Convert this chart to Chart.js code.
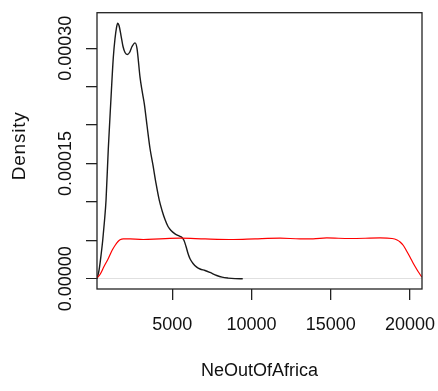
<!DOCTYPE html>
<html>
<head>
<meta charset="utf-8">
<script src="https://cdn.jsdelivr.net/npm/chart.js@4/dist/chart.umd.min.js"></script>
<style>
  html, body { margin: 0; padding: 0; background: #ffffff; }
  canvas { display: block; }
</style>
</head>
<body>
<canvas id="c" width="438" height="391"></canvas>
<script>
// Posterior density of NeOutOfAfrica (black)
const blackX = [250, 373, 499, 606, 720, 815, 960, 1111, 1275, 1383, 1477, 1553, 1635, 1761, 1888, 2014, 2159, 2298, 2456, 2645, 2772, 2961, 3087, 3232, 3403, 3592, 3782, 3971, 4179, 4350, 4539, 4729, 4918, 5170, 5423, 5612, 5739, 5865, 5991, 6117, 6307, 6540, 6749, 7064, 7380, 7803, 8138, 8516, 8958, 9444];
const blackY = [0.0, 1.08, 3.03, 4.98, 7.58, 10.19, 16.95, 22.81, 28.79, 31.26, 32.69, 33.25, 32.95, 31.65, 30.22, 29.44, 29.18, 29.44, 30.22, 30.70, 29.96, 26.23, 24.50, 22.77, 19.94, 16.95, 14.74, 12.40, 10.19, 8.89, 7.71, 6.80, 6.28, 5.85, 5.57, 5.37, 4.98, 4.20, 3.29, 2.60, 1.99, 1.51, 1.27, 1.08, 0.82, 0.43, 0.21, 0.09, 0.02, 0.005].map(v => v * 1e-5);
// Prior density (red, uniform prior)
const redX = [246, 436, 688, 960, 1193, 1383, 1572, 1698, 1907, 2330, 3169, 4223, 5486, 7064, 8851, 10221, 11799, 13062, 13882, 14747, 16218, 18112, 18870, 19185, 19375, 19583, 19785, 20006, 20195, 20322, 20511, 20745];
const redY = [0.13, 0.56, 1.60, 2.64, 3.68, 4.33, 4.85, 5.07, 5.20, 5.18, 5.11, 5.20, 5.28, 5.18, 5.11, 5.20, 5.28, 5.20, 5.20, 5.31, 5.24, 5.31, 5.24, 5.05, 4.79, 4.33, 3.62, 2.81, 2.06, 1.60, 0.95, 0.21].map(v => v * 1e-5);

const xTicks = [5000, 10000, 15000, 20000];
const yTicks = [0, 0.00005, 0.0001, 0.00015, 0.0002, 0.00025, 0.0003];
const yTickLabels = { 0: "0.00000", 0.00015: "0.00015", 0.0003: "0.00030" };
const xTitle = "NeOutOfAfrica";
const yTitle = "Density";
const xRange = [246, 20758];
const yRange = [-0.0000133, 0.0003462];

const FONT = '"Liberation Sans", Arial, Helvetica, sans-serif';

const boxPlugin = {
  id: 'box',
  afterDraw(chart) {
    const { ctx, chartArea: a } = chart;
    ctx.save();
    ctx.strokeStyle = '#222';
    ctx.lineWidth = 1.3;
    ctx.strokeRect(a.left, a.top, a.right - a.left, a.bottom - a.top);
    // rotated y tick labels (R style)
    const ys = chart.scales.y;
    ctx.fillStyle = '#111';
    ctx.font = '18px ' + FONT;
    ctx.textAlign = 'center';
    ctx.textBaseline = 'middle';
    yTicks.forEach(v => {
      const lab = yTickLabels[v];
      if (!lab) return;
      const py = ys.getPixelForValue(v);
      ctx.save();
      ctx.translate(66.5, py);
      ctx.rotate(-Math.PI / 2);
      ctx.fillText(lab, 0, 0);
      ctx.restore();
    });
    // y axis title
    ctx.save();
    ctx.translate(20, (a.top + a.bottom) / 2 - 5);
    ctx.rotate(-Math.PI / 2);
    ctx.font = '19px ' + FONT;
    if ('letterSpacing' in ctx) ctx.letterSpacing = '0.8px';
    ctx.fillText(yTitle, 0, 0);
    ctx.restore();
    ctx.restore();
  }
};

new Chart(document.getElementById('c'), {
  type: 'scatter',
  data: {
    datasets: [
      {
        data: redX.map((x, i) => ({ x, y: redY[i] })),
        showLine: true, borderColor: '#ff0000', borderWidth: 1.2,
        pointRadius: 0, cubicInterpolationMode: 'monotone', fill: false
      },
      {
        data: blackX.map((x, i) => ({ x, y: blackY[i] })),
        showLine: true, borderColor: '#1a1a1a', borderWidth: 1.4,
        pointRadius: 0, cubicInterpolationMode: 'monotone', fill: false
      }
    ]
  },
  options: {
    responsive: false,
    animation: false,
    devicePixelRatio: 1,
    layout: { padding: { left: 0, top: 12.7, right: 16, bottom: 0 } },
    plugins: { legend: { display: false }, tooltip: { enabled: false } },
    scales: {
      x: {
        type: 'linear', min: xRange[0], max: xRange[1],
        afterBuildTicks: s => { s.ticks = xTicks.map(v => ({ value: v })); },
        afterFit: s => { s.height = 102; s.paddingLeft = 0; s.paddingRight = 0; },
        border: { display: false },
        grid: { drawOnChartArea: false, drawTicks: true, tickLength: 11, tickColor: '#222', lineWidth: 1.3 },
        ticks: { autoSkip: false, maxRotation: 0, padding: 14, color: '#111', font: { family: FONT, size: 18 }, callback: v => String(v) },
        title: { display: true, text: xTitle, color: '#111', font: { family: FONT, size: 18 }, padding: { top: 0, bottom: 9.2 } }
      },
      y: {
        type: 'linear', min: yRange[0], max: yRange[1],
        afterBuildTicks: s => { s.ticks = yTicks.map(v => ({ value: v })); },
        afterFit: s => { s.width = 97; s.paddingTop = 0; s.paddingBottom = 0; },
        border: { display: false },
        grid: {
          drawOnChartArea: true, drawTicks: true, tickLength: 11,
          tickColor: '#222',
          color: c => (c.tick && c.tick.value === 0) ? '#e0e0e0' : 'rgba(0,0,0,0)',
          lineWidth: c => (c.tick && c.tick.value === 0) ? 1 : 1.3
        },
        ticks: { display: false },
        title: { display: false }
      }
    }
  },
  plugins: [boxPlugin]
});
</script>
</body>
</html>
